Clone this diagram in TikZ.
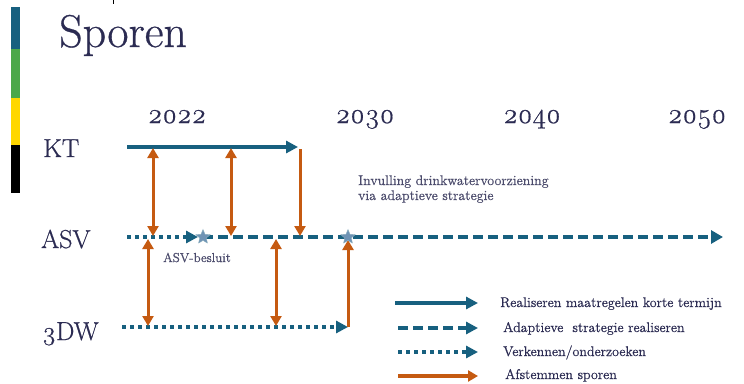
\documentclass[tikz,border=0pt]{standalone}
\usepackage{fontspec}
\setmainfont{Latin Modern Roman}[Numbers=OldStyle, FakeBold=0.6]
\usetikzlibrary{arrows.meta,shapes.geometric}

\definecolor{spoorblauw}{HTML}{17607F}
\definecolor{afstemoranje}{HTML}{C55A11}
\definecolor{tekstblauw}{HTML}{2B2B52}
\definecolor{sterblauw}{HTML}{6F93B5}
\definecolor{balkgroen}{HTML}{4CA84A}
\definecolor{balkgeel}{HTML}{FFD700}

\tikzset{
    kort/.style={spoorblauw, line width=4pt, -{Triangle[length=12pt,width=12pt]}},
    adaptief/.style={kort, dash pattern=on 10pt off 5pt},
    verken/.style={kort, dash pattern=on 3.5pt off 4.5pt},
    afstem/.style={afstemoranje, line width=3pt, -{Triangle[length=10pt,width=11pt]}},
    afstemtwee/.style={afstem, {Triangle[length=10pt,width=11pt]}-{Triangle[length=10pt,width=11pt]}},
    jaar/.style={text=tekstblauw, font=\fontsize{28}{30}\selectfont, anchor=base, inner sep=0pt},
    spoor/.style={text=tekstblauw, font=\fontsize{26}{28}\selectfont, anchor=base west, inner sep=0pt},
    notitie/.style={text=tekstblauw!85, font=\fontsize{13}{15}\selectfont, anchor=base west, inner sep=0pt, align=left},
    uitleg/.style={text=tekstblauw, font=\fontsize{14}{16}\selectfont, anchor=base west, inner sep=0pt},
    mijlpaal/.style={star, star points=5, star point ratio=2.2, fill=sterblauw, draw=spoorblauw!50, inner sep=0pt, minimum size=15pt},
}

\begin{document}
\begin{tikzpicture}[x=1pt,y=-1pt]
    \useasboundingbox[fill=white] (0,0) rectangle (744,383);
    % kleurbalk
    \fill[spoorblauw] (11,7) rectangle (20,49);
    \fill[balkgroen] (11,49) rectangle (20,98);
    \fill[balkgeel] (11,98) rectangle (20,145);
    \fill[black] (11,145) rectangle (20,193);
    \draw[black, line width=0.8pt] (113,0) -- (113,4);

    \node[text=tekstblauw, font=\fontsize{46}{48}\selectfont, anchor=base west, inner sep=0pt] (titel) at (59,47) {Sporen};

    % jaartallen
    \node[jaar] (j2022) at (177,123) {2022};
    \node[jaar] (j2030) at (365,123) {2030};
    \node[jaar] (j2040) at (532,123) {2040};
    \node[jaar] (j2050) at (697,123) {2050};

    % sporen
    \node[spoor] (kt) at (43,157) {KT};
    \node[spoor] (asv) at (41,248) {ASV};
    \node[spoor] (dw) at (42,340) {3DW};

    \coordinate (kt-s) at (127,147);
    \coordinate (kt-e) at (300,147);
    \coordinate (asv-s) at (127,237);
    \coordinate (asv-e) at (723,237);
    \coordinate (dw-s) at (122,327);
    \coordinate (dw-e) at (348,327);
    \coordinate (besluit-pos) at (203,237);
    \coordinate (invulling-pos) at (348,237);

    \draw[kort, shorten >=2pt] (kt-s) -- (kt-e);
    \draw[verken, shorten >=5pt] (asv-s) -- (besluit-pos);
    \draw[adaptief, -{Triangle[length=12pt,width=13pt]}] (besluit-pos) -- (asv-e);
    \draw[verken] (dw-s) -- (dw-e);

    % afstemmen tussen sporen
    \foreach \x in {153,231}{
        \draw[afstemtwee, shorten <=1pt, shorten >=1pt] (\x,147 |- kt-s) -- (\x,237 |- asv-s);
    }
    \draw[afstem, shorten >=1pt] ([yshift=-2pt]kt-e) -- (kt-e |- asv-s);
    \foreach \x in {148,276}{
        \draw[afstemtwee, shorten <=2pt, shorten >=1pt] (\x,237 |- asv-s) -- (\x,327 |- dw-s);
    }
    \draw[afstem, shorten >=3pt] (dw-e) -- (invulling-pos);

    \node[mijlpaal] (besluit) at (besluit-pos) {};
    \node[mijlpaal] (invulling) at (invulling-pos) {};
    \node[notitie] (besluit-tekst) at (163,262) {ASV-besluit};
    \node[notitie, font=\fontsize{14}{15}\selectfont] (invulling-tekst) at (358,200) {Invulling drinkwatervoorziening\\via adaptieve strategie};

    % legenda
    \node[uitleg] (l1) at (500,307) {Realiseren maatregelen korte termijn};
    \node[uitleg] (l2) at (503,332) {Adaptieve\ \ strategie realiseren};
    \node[uitleg] (l3) at (503,356) {Verkennen/onderzoeken};
    \node[uitleg] (l4) at (505,379) {Afstemmen sporen};
    \coordinate (l1-s) at (395,303);
    \coordinate (l2-s) at (398,328);
    \coordinate (l3-s) at (398,352);
    \coordinate (l4-s) at (398,376);
    \draw[kort] (l1-s) -- (l1-s -| 478,0);
    \draw[adaptief] (l2-s) -- (l2-s -| 478,0);
    \draw[verken] (l3-s) -- (l3-s -| 478,0);
    \draw[afstem, line width=3.5pt] (l4-s) -- (l4-s -| 478,0);
\end{tikzpicture}
\end{document}
